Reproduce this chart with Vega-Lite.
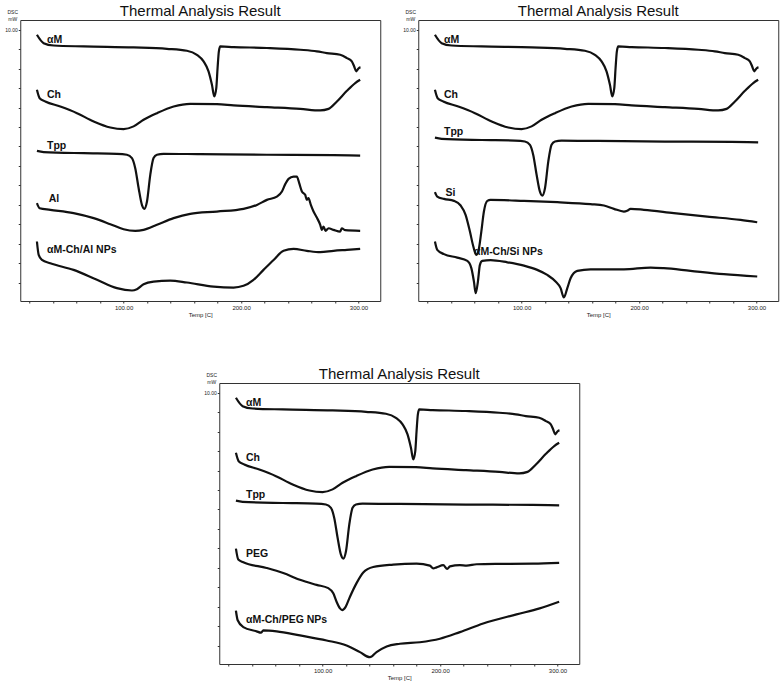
{
  "$schema": "https://vega.github.io/schema/vega-lite/v6.json",
  "padding": {"left": 4, "top": 3, "right": 5, "bottom": 3},
  "background": "white",
  "config": {
    "font": "Liberation Sans",
    "view": {"stroke": "#333", "strokeWidth": 1},
    "title": {"fontSize": 15, "fontWeight": "normal", "color": "#111", "anchor": "middle", "baseline": "alphabetic", "offset": -10},
    "axis": {"grid": false, "domain": false, "tickSize": 2, "tickColor": "#333", "labelColor": "#222", "titleColor": "#222", "titleFontWeight": "normal", "labelOverlap": false, "labelFlush": false}
  },
  "datasets": {
    "curves": [
      {"s":"αM","t":26.2,"v":9.74},{"s":"αM","t":31.9,"v":9.31},{"s":"αM","t":40.4,"v":9.19},{"s":"αM","t":66.0,"v":9.14},{"s":"αM","t":108.5,"v":9.09},{"s":"αM","t":136.9,"v":9.02},{"s":"αM","t":153.9,"v":8.92},{"s":"αM","t":162.4,"v":8.71},{"s":"αM","t":168.1,"v":8.37},{"s":"αM","t":172.3,"v":7.86},{"s":"αM","t":175.2,"v":7.17},{"s":"αM","t":177.2,"v":6.57},{"s":"αM","t":178.9,"v":7.0},{"s":"αM","t":180.0,"v":8.03},{"s":"αM","t":181.1,"v":8.89},{"s":"αM","t":182.3,"v":9.14},{"s":"αM","t":193.6,"v":9.11},{"s":"αM","t":222.0,"v":9.06},{"s":"αM","t":250.4,"v":8.97},{"s":"αM","t":264.5,"v":8.89},{"s":"αM","t":273.0,"v":8.8},{"s":"αM","t":284.4,"v":8.71},{"s":"αM","t":290.1,"v":8.54},{"s":"αM","t":294.3,"v":8.37},{"s":"αM","t":296.3,"v":8.11},{"s":"αM","t":298.0,"v":7.86},{"s":"αM","t":299.1,"v":7.94},{"s":"αM","t":300.3,"v":8.03},{"s":"αM","t":301.7,"v":8.06},
      {"s":"Ch","t":26.2,"v":6.91},{"s":"Ch","t":28.5,"v":6.48},{"s":"Ch","t":33.3,"v":6.31},{"s":"Ch","t":46.1,"v":6.05},{"s":"Ch","t":60.3,"v":5.71},{"s":"Ch","t":74.5,"v":5.28},{"s":"Ch","t":88.7,"v":4.97},{"s":"Ch","t":100.0,"v":4.89},{"s":"Ch","t":108.5,"v":5.03},{"s":"Ch","t":117.0,"v":5.37},{"s":"Ch","t":128.4,"v":5.71},{"s":"Ch","t":142.6,"v":6.05},{"s":"Ch","t":156.7,"v":6.19},{"s":"Ch","t":179.4,"v":6.17},{"s":"Ch","t":193.6,"v":6.11},{"s":"Ch","t":222.0,"v":6.02},{"s":"Ch","t":250.4,"v":5.93},{"s":"Ch","t":267.4,"v":5.85},{"s":"Ch","t":274.5,"v":5.93},{"s":"Ch","t":281.6,"v":6.31},{"s":"Ch","t":290.1,"v":6.86},{"s":"Ch","t":297.2,"v":7.26},{"s":"Ch","t":301.4,"v":7.43},
      {"s":"Tpp1","t":26.2,"v":3.77},{"s":"Tpp1","t":31.9,"v":3.71},{"s":"Tpp1","t":66.0,"v":3.65},{"s":"Tpp1","t":94.3,"v":3.62},{"s":"Tpp1","t":102.8,"v":3.57},{"s":"Tpp1","t":107.1,"v":3.4},{"s":"Tpp1","t":109.9,"v":2.88},{"s":"Tpp1","t":112.8,"v":1.85},{"s":"Tpp1","t":115.6,"v":0.99},{"s":"Tpp1","t":117.6,"v":0.79},{"s":"Tpp1","t":119.9,"v":1.17},{"s":"Tpp1","t":122.7,"v":2.54},{"s":"Tpp1","t":125.5,"v":3.4},{"s":"Tpp1","t":128.4,"v":3.57},{"s":"Tpp1","t":134.0,"v":3.62},{"s":"Tpp1","t":165.2,"v":3.6},{"s":"Tpp1","t":222.0,"v":3.57},{"s":"Tpp1","t":278.7,"v":3.55},{"s":"Tpp1","t":301.4,"v":3.53},
      {"s":"Tpp2","t":26.2,"v":4.45},{"s":"Tpp2","t":31.9,"v":4.39},{"s":"Tpp2","t":66.0,"v":4.33},{"s":"Tpp2","t":94.3,"v":4.3},{"s":"Tpp2","t":102.8,"v":4.25},{"s":"Tpp2","t":107.1,"v":4.08},{"s":"Tpp2","t":109.9,"v":3.56},{"s":"Tpp2","t":112.8,"v":2.53},{"s":"Tpp2","t":115.6,"v":1.67},{"s":"Tpp2","t":117.6,"v":1.47},{"s":"Tpp2","t":119.9,"v":1.85},{"s":"Tpp2","t":122.7,"v":3.22},{"s":"Tpp2","t":125.5,"v":4.08},{"s":"Tpp2","t":128.4,"v":4.25},{"s":"Tpp2","t":134.0,"v":4.3},{"s":"Tpp2","t":165.2,"v":4.28},{"s":"Tpp2","t":222.0,"v":4.25},{"s":"Tpp2","t":278.7,"v":4.23},{"s":"Tpp2","t":301.4,"v":4.21},
      {"s":"Al","t":26.2,"v":1.08},{"s":"Al","t":28.5,"v":0.82},{"s":"Al","t":37.6,"v":0.74},{"s":"Al","t":57.4,"v":0.57},{"s":"Al","t":74.5,"v":0.31},{"s":"Al","t":88.7,"v":0.0},{"s":"Al","t":100.0,"v":-0.26},{"s":"Al","t":109.9,"v":-0.34},{"s":"Al","t":117.0,"v":-0.29},{"s":"Al","t":128.4,"v":-0.03},{"s":"Al","t":142.6,"v":0.31},{"s":"Al","t":156.7,"v":0.53},{"s":"Al","t":179.4,"v":0.65},{"s":"Al","t":202.1,"v":0.79},{"s":"Al","t":213.5,"v":0.99},{"s":"Al","t":222.0,"v":1.25},{"s":"Al","t":230.5,"v":1.42},{"s":"Al","t":234.8,"v":1.68},{"s":"Al","t":237.6,"v":2.06},{"s":"Al","t":240.4,"v":2.33},{"s":"Al","t":244.7,"v":2.45},{"s":"Al","t":247.5,"v":2.45},{"s":"Al","t":249.5,"v":2.11},{"s":"Al","t":251.8,"v":1.68},{"s":"Al","t":254.6,"v":1.51},{"s":"Al","t":256.0,"v":1.25},{"s":"Al","t":257.4,"v":1.34},{"s":"Al","t":259.4,"v":0.99},{"s":"Al","t":261.7,"v":0.65},{"s":"Al","t":264.5,"v":0.34},{"s":"Al","t":267.4,"v":-0.03},{"s":"Al","t":268.8,"v":-0.29},{"s":"Al","t":270.2,"v":-0.12},{"s":"Al","t":271.9,"v":-0.34},{"s":"Al","t":274.5,"v":-0.21},{"s":"Al","t":278.7,"v":-0.29},{"s":"Al","t":284.4,"v":-0.38},{"s":"Al","t":285.8,"v":-0.21},{"s":"Al","t":288.7,"v":-0.31},{"s":"Al","t":301.4,"v":-0.34},
      {"s":"AlNP","t":26.2,"v":-0.89},{"s":"AlNP","t":27.7,"v":-1.58},{"s":"AlNP","t":30.5,"v":-1.84},{"s":"AlNP","t":37.6,"v":-2.01},{"s":"AlNP","t":57.4,"v":-2.35},{"s":"AlNP","t":77.3,"v":-2.86},{"s":"AlNP","t":94.3,"v":-3.29},{"s":"AlNP","t":107.1,"v":-3.41},{"s":"AlNP","t":111.3,"v":-3.34},{"s":"AlNP","t":117.0,"v":-3.09},{"s":"AlNP","t":125.5,"v":-2.95},{"s":"AlNP","t":139.7,"v":-2.9},{"s":"AlNP","t":153.9,"v":-3.0},{"s":"AlNP","t":176.6,"v":-3.21},{"s":"AlNP","t":193.6,"v":-3.26},{"s":"AlNP","t":202.1,"v":-3.17},{"s":"AlNP","t":210.6,"v":-2.86},{"s":"AlNP","t":219.1,"v":-2.35},{"s":"AlNP","t":227.7,"v":-1.84},{"s":"AlNP","t":236.2,"v":-1.37},{"s":"AlNP","t":244.7,"v":-1.27},{"s":"AlNP","t":256.0,"v":-1.37},{"s":"AlNP","t":267.4,"v":-1.44},{"s":"AlNP","t":278.7,"v":-1.37},{"s":"AlNP","t":290.1,"v":-1.32},{"s":"AlNP","t":301.4,"v":-1.27},
      {"s":"Si","t":26.2,"v":1.65},{"s":"Si","t":28.2,"v":1.42},{"s":"Si","t":33.9,"v":1.3},{"s":"Si","t":42.4,"v":1.2},{"s":"Si","t":48.1,"v":0.96},{"s":"Si","t":52.3,"v":0.48},{"s":"Si","t":56.0,"v":-0.38},{"s":"Si","t":58.9,"v":-1.15},{"s":"Si","t":61.4,"v":-1.58},{"s":"Si","t":63.7,"v":-1.24},{"s":"Si","t":65.7,"v":-0.38},{"s":"Si","t":67.9,"v":0.65},{"s":"Si","t":70.8,"v":1.2},{"s":"Si","t":73.6,"v":1.25},{"s":"Si","t":102.0,"v":1.2},{"s":"Si","t":130.4,"v":1.13},{"s":"Si","t":158.7,"v":1.03},{"s":"Si","t":170.1,"v":0.96},{"s":"Si","t":178.6,"v":0.79},{"s":"Si","t":187.1,"v":0.65},{"s":"Si","t":189.9,"v":0.69},{"s":"Si","t":192.8,"v":0.79},{"s":"Si","t":204.1,"v":0.74},{"s":"Si","t":229.6,"v":0.57},{"s":"Si","t":258.0,"v":0.39},{"s":"Si","t":286.4,"v":0.22},{"s":"Si","t":300.6,"v":0.1},
      {"s":"SiNP","t":26.2,"v":-0.89},{"s":"SiNP","t":28.2,"v":-1.32},{"s":"SiNP","t":33.9,"v":-1.54},{"s":"SiNP","t":45.2,"v":-1.72},{"s":"SiNP","t":53.8,"v":-1.89},{"s":"SiNP","t":57.2,"v":-2.26},{"s":"SiNP","t":59.4,"v":-2.95},{"s":"SiNP","t":60.9,"v":-3.55},{"s":"SiNP","t":62.8,"v":-2.95},{"s":"SiNP","t":64.5,"v":-2.09},{"s":"SiNP","t":66.5,"v":-1.89},{"s":"SiNP","t":73.6,"v":-1.85},{"s":"SiNP","t":87.8,"v":-1.96},{"s":"SiNP","t":102.0,"v":-2.13},{"s":"SiNP","t":113.3,"v":-2.35},{"s":"SiNP","t":121.8,"v":-2.61},{"s":"SiNP","t":128.9,"v":-2.95},{"s":"SiNP","t":133.2,"v":-3.29},{"s":"SiNP","t":136.0,"v":-3.77},{"s":"SiNP","t":138.9,"v":-3.29},{"s":"SiNP","t":141.7,"v":-2.78},{"s":"SiNP","t":147.4,"v":-2.4},{"s":"SiNP","t":158.7,"v":-2.32},{"s":"SiNP","t":187.1,"v":-2.32},{"s":"SiNP","t":209.8,"v":-2.23},{"s":"SiNP","t":221.1,"v":-2.26},{"s":"SiNP","t":243.8,"v":-2.4},{"s":"SiNP","t":272.2,"v":-2.57},{"s":"SiNP","t":300.6,"v":-2.69},
      {"s":"PEG","t":26.2,"v":1.98},{"s":"PEG","t":28.2,"v":1.42},{"s":"PEG","t":32.5,"v":1.28},{"s":"PEG","t":52.3,"v":0.99},{"s":"PEG","t":66.5,"v":0.73},{"s":"PEG","t":80.7,"v":0.38},{"s":"PEG","t":94.9,"v":0.12},{"s":"PEG","t":104.8,"v":-0.05},{"s":"PEG","t":109.1,"v":-0.31},{"s":"PEG","t":111.9,"v":-0.75},{"s":"PEG","t":114.8,"v":-1.09},{"s":"PEG","t":116.7,"v":-1.18},{"s":"PEG","t":119.6,"v":-1.01},{"s":"PEG","t":123.3,"v":-0.49},{"s":"PEG","t":128.9,"v":0.21},{"s":"PEG","t":134.6,"v":0.76},{"s":"PEG","t":143.1,"v":1.04},{"s":"PEG","t":160.1,"v":1.16},{"s":"PEG","t":180.0,"v":1.21},{"s":"PEG","t":191.3,"v":1.11},{"s":"PEG","t":194.2,"v":0.97},{"s":"PEG","t":197.0,"v":1.02},{"s":"PEG","t":202.7,"v":1.13},{"s":"PEG","t":206.1,"v":0.94},{"s":"PEG","t":208.4,"v":1.07},{"s":"PEG","t":216.9,"v":1.13},{"s":"PEG","t":222.6,"v":1.11},{"s":"PEG","t":231.1,"v":1.18},{"s":"PEG","t":250.9,"v":1.2},{"s":"PEG","t":279.3,"v":1.21},{"s":"PEG","t":301.4,"v":1.25},
      {"s":"PEGNP","t":26.2,"v":-1.21},{"s":"PEGNP","t":27.7,"v":-1.7},{"s":"PEGNP","t":32.5,"v":-2.05},{"s":"PEGNP","t":43.8,"v":-2.27},{"s":"PEGNP","t":47.5,"v":-2.34},{"s":"PEGNP","t":49.5,"v":-2.22},{"s":"PEGNP","t":60.9,"v":-2.27},{"s":"PEGNP","t":80.7,"v":-2.48},{"s":"PEGNP","t":103.4,"v":-2.74},{"s":"PEGNP","t":120.4,"v":-3.0},{"s":"PEGNP","t":131.8,"v":-3.34},{"s":"PEGNP","t":140.3,"v":-3.6},{"s":"PEGNP","t":145.9,"v":-3.34},{"s":"PEGNP","t":154.5,"v":-3.05},{"s":"PEGNP","t":165.8,"v":-2.91},{"s":"PEGNP","t":182.8,"v":-2.83},{"s":"PEGNP","t":199.9,"v":-2.65},{"s":"PEGNP","t":216.9,"v":-2.31},{"s":"PEGNP","t":236.7,"v":-1.87},{"s":"PEGNP","t":265.1,"v":-1.4},{"s":"PEGNP","t":284.8,"v":-1.09},{"s":"PEGNP","t":301.4,"v":-0.75}
    ],
    "labels": [
      {"p":1,"label":"αM","t":34.8,"v":9.49},{"p":1,"label":"Ch","t":34.8,"v":6.62},{"p":1,"label":"Tpp","t":34.8,"v":4.03},{"p":1,"label":"Al","t":36.2,"v":1.3},{"p":1,"label":"αM-Ch/Al NPs","t":34.8,"v":-1.32},
      {"p":2,"label":"αM","t":33.9,"v":9.49},{"p":2,"label":"Ch","t":33.9,"v":6.62},{"p":2,"label":"Tpp","t":33.9,"v":4.75},{"p":2,"label":"Si","t":35.3,"v":1.6},{"p":2,"label":"αM-Ch/Si NPs","t":59.4,"v":-1.41},
      {"p":3,"label":"αM","t":34.8,"v":9.48},{"p":3,"label":"Ch","t":34.8,"v":6.62},{"p":3,"label":"Tpp","t":34.8,"v":4.75},{"p":3,"label":"PEG","t":34.8,"v":1.73},{"p":3,"label":"αM-Ch/PEG NPs","t":34.8,"v":-1.7}
    ]
  },
  "vconcat": [
    {
      "hconcat": [
        {
          "width": 360, "height": 281,
          "title": "Thermal Analysis Result",
          "resolve": {"axis": {"x": "independent", "y": "independent"}},
          "layer": [
            {"data": {"name": "curves"}, "transform": [{"filter": {"field": "s", "oneOf": ["αM", "Ch", "Tpp1", "Al", "AlNP"]}}],
             "mark": {"type": "line", "interpolate": "monotone", "color": "#111", "strokeWidth": 2.2},
             "encoding": {
               "x": {"field": "t", "type": "quantitative", "scale": {"domain": [12, 318.5], "nice": false, "zero": false}, "axis": {"orient": "bottom", "title": "Temp [C]", "values": [100, 200, 300], "format": ".2f", "labelOverlap": false, "labelFontSize": 6, "titleFontSize": 6, "labelPadding": 1, "titlePadding": 1}},
               "y": {"field": "v", "type": "quantitative", "scale": {"domain": [-3.95, 10.5], "nice": false, "zero": false}, "axis": {"orient": "left", "title": ["DSC", "mW"], "titleAngle": 0, "titleAlign": "center", "titleBaseline": "top", "titleFontSize": 5, "titleX": -8, "titleY": -11, "values": [10], "format": ".2f", "labelOverlap": false, "labelFontSize": 5, "labelPadding": 1}},
               "detail": {"field": "s"}}},
            {"data": {"name": "labels"}, "transform": [{"filter": "datum.p === 1"}],
             "mark": {"type": "text", "align": "left", "baseline": "middle", "fontWeight": "bold", "fontSize": 10.5, "color": "#111"},
             "encoding": {
               "x": {"field": "t", "type": "quantitative", "axis": {"orient": "bottom", "title": null, "labels": false, "values": [20,40,60,80,120,140,160,180,220,240,260,280]}},
               "y": {"field": "v", "type": "quantitative", "axis": {"orient": "left", "title": null, "labels": false, "values": [-3,-2,-1,0,1,2,3,4,5,6,7,8,9]}},
               "text": {"field": "label"}}}
          ]
        },
        {
          "width": 360, "height": 281,
          "title": "Thermal Analysis Result",
          "resolve": {"axis": {"x": "independent", "y": "independent"}},
          "layer": [
            {"data": {"name": "curves"}, "transform": [{"filter": {"field": "s", "oneOf": ["αM", "Ch", "Tpp2", "Si", "SiNP"]}}],
             "mark": {"type": "line", "interpolate": "monotone", "color": "#111", "strokeWidth": 2.2},
             "encoding": {
               "x": {"field": "t", "type": "quantitative", "scale": {"domain": [12, 318.5], "nice": false, "zero": false}, "axis": {"orient": "bottom", "title": "Temp [C]", "values": [100, 200, 300], "format": ".2f", "labelOverlap": false, "labelFontSize": 6, "titleFontSize": 6, "labelPadding": 1, "titlePadding": 1}},
               "y": {"field": "v", "type": "quantitative", "scale": {"domain": [-3.95, 10.5], "nice": false, "zero": false}, "axis": {"orient": "left", "title": ["DSC", "mW"], "titleAngle": 0, "titleAlign": "center", "titleBaseline": "top", "titleFontSize": 5, "titleX": -8, "titleY": -11, "values": [10], "format": ".2f", "labelOverlap": false, "labelFontSize": 5, "labelPadding": 1}},
               "detail": {"field": "s"}}},
            {"data": {"name": "labels"}, "transform": [{"filter": "datum.p === 2"}],
             "mark": {"type": "text", "align": "left", "baseline": "middle", "fontWeight": "bold", "fontSize": 10.5, "color": "#111"},
             "encoding": {
               "x": {"field": "t", "type": "quantitative", "axis": {"orient": "bottom", "title": null, "labels": false, "values": [20,40,60,80,120,140,160,180,220,240,260,280]}},
               "y": {"field": "v", "type": "quantitative", "axis": {"orient": "left", "title": null, "labels": false, "values": [-3,-2,-1,0,1,2,3,4,5,6,7,8,9]}},
               "text": {"field": "label"}}}
          ]
        }
      ],
      "spacing": 20
    },
    {
      "width": 360, "height": 281,
      "title": "Thermal Analysis Result",
      "resolve": {"axis": {"x": "independent", "y": "independent"}},
      "layer": [
        {"data": {"name": "curves"}, "transform": [{"filter": {"field": "s", "oneOf": ["αM", "Ch", "Tpp2", "PEG", "PEGNP"]}}],
         "mark": {"type": "line", "interpolate": "monotone", "color": "#111", "strokeWidth": 2.2},
         "encoding": {
           "x": {"field": "t", "type": "quantitative", "scale": {"domain": [12, 318.5], "nice": false, "zero": false}, "axis": {"orient": "bottom", "title": "Temp [C]", "values": [100, 200, 300], "format": ".2f", "labelOverlap": false, "labelFontSize": 6, "titleFontSize": 6, "labelPadding": 1, "titlePadding": 1}},
           "y": {"field": "v", "type": "quantitative", "scale": {"domain": [-3.95, 10.5], "nice": false, "zero": false}, "axis": {"orient": "left", "title": ["DSC", "mW"], "titleAngle": 0, "titleAlign": "center", "titleBaseline": "top", "titleFontSize": 5, "titleX": -8, "titleY": -11, "values": [10], "format": ".2f", "labelOverlap": false, "labelFontSize": 5, "labelPadding": 1}},
           "detail": {"field": "s"}}},
        {"data": {"name": "labels"}, "transform": [{"filter": "datum.p === 3"}],
         "mark": {"type": "text", "align": "left", "baseline": "middle", "fontWeight": "bold", "fontSize": 10.5, "color": "#111"},
         "encoding": {
           "x": {"field": "t", "type": "quantitative", "axis": {"orient": "bottom", "title": null, "labels": false, "values": [20,40,60,80,120,140,160,180,220,240,260,280]}},
           "y": {"field": "v", "type": "quantitative", "axis": {"orient": "left", "title": null, "labels": false, "values": [-3,-2,-1,0,1,2,3,4,5,6,7,8,9]}},
           "text": {"field": "label"}}}
      ]
    }
  ],
  "spacing": 48,
  "center": true
}
